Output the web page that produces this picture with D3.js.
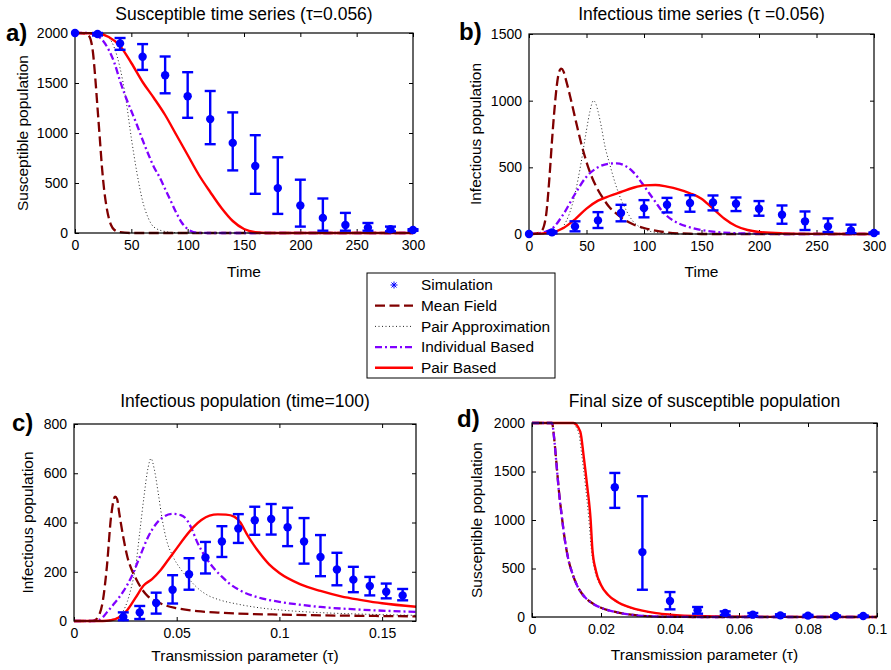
<!DOCTYPE html>
<html>
<head>
<meta charset="utf-8">
<script src="https://cdn.jsdelivr.net/npm/d3@7"></script>
<style>
  body { margin: 0; background: #fff; }
  svg text { font-family: "Liberation Sans", Arial, Helvetica, sans-serif; }
</style>
</head>
<body>
<div class="canvas"></div>
<script>
// ---- data ----
// panel a/b : time series, simulation every 20 time units
const simTimes = [0, 20, 40, 60, 80, 100, 120, 140, 160, 180, 200, 220, 240, 260, 280, 300];
const susSim   = [2000, 1990, 1896, 1762, 1578, 1367, 1139, 901, 670, 449, 275, 151, 80, 54, 37, 30];
const susLow   = [2000, 1975, 1832, 1631, 1397, 1152, 888, 626, 392, 191, 64, 23, 23, 23, 17, 22];
const susHigh  = [2000, 2000, 1950, 1889, 1765, 1608, 1420, 1206, 978, 757, 533, 345, 201, 100, 64, 38];

const infSim   = [0, 12, 57, 102, 157, 194, 219, 232, 237, 227, 189, 145, 95, 57, 27, 7];
const infLow   = [0, 5, 20, 45, 95, 125, 162, 167, 177, 172, 137, 77, 30, 15, 7, 3];
const infHigh  = [0, 20, 95, 164, 219, 254, 271, 291, 289, 274, 247, 214, 169, 117, 70, 12];

const meanFieldA = [[0,2000],[5,1998],[10,1990],[13,1960],[16,1800],[18,1550],[20,1250],[22,950],[24,650],[26,420],[28,260],[30,150],[32,80],[35,30],[40,8],[50,0],[300,0]];
const pairApproxA = [[0,2000],[20,1995],[30,1950],[35,1850],[40,1650],[45,1350],[50,950],[55,600],[60,320],[65,150],[70,60],[80,15],[90,3],[100,0],[300,0]];
const individualA = [[0,2000],[10,2000],[20,1970],[25,1920],[30,1830],[35,1700],[40,1520],[45,1360],[50,1220],[55,1080],[60,930],[65,790],[70,660],[75,560],[80,440],[85,320],[90,200],[95,100],[100,40],[105,10],[110,2],[120,0],[300,0]];
const pairBasedA = [[0,2000],[20,1995],[30,1960],[40,1870],[50,1700],[60,1510],[70,1350],[80,1180],[90,980],[100,780],[110,580],[120,410],[130,250],[140,120],[150,40],[160,8],[170,0],[300,0]];

const meanFieldB = [[0,0],[5,2],[10,15],[13,60],[15,150],[18,450],[20,700],[22,920],[24,1100],[26,1210],[28,1240],[30,1220],[32,1160],[35,1060],[38,950],[42,800],[46,660],[50,540],[55,420],[60,330],[65,260],[70,200],[75,160],[80,125],[90,75],[100,45],[110,25],[120,12],[130,5],[140,2],[150,0],[300,0]];
const pairApproxB = [[0,0],[20,5],[25,20],[30,60],[35,150],[40,300],[45,520],[50,780],[53,920],[56,1000],[58,980],[60,920],[63,800],[66,660],[70,530],[75,380],[80,260],[85,170],[90,100],[95,60],[100,35],[110,12],[120,4],[130,0],[300,0]];
const individualB = [[0,0],[10,8],[20,40],[30,150],[40,300],[50,430],[60,500],[70,528],[76,530],[85,505],[90,470],[95,420],[100,360],[105,300],[110,240],[115,180],[120,135],[130,80],[140,50],[150,30],[160,18],[180,6],[200,2],[220,0],[300,0]];
const pairBasedB = [[0,0],[10,3],[20,12],[30,45],[40,110],[50,190],[60,250],[70,285],[80,315],[90,345],[100,365],[110,368],[120,355],[130,335],[140,305],[150,265],[160,190],[170,115],[180,60],[190,30],[200,15],[220,5],[250,1],[300,0]];

// panel c : infectious at time 100 vs tau
const tauSimC  = [0.024, 0.032, 0.040, 0.048, 0.056, 0.064, 0.072, 0.080, 0.088, 0.096, 0.104, 0.112, 0.120, 0.128, 0.136, 0.144, 0.152, 0.160];
const infTauSim  = [16, 35, 73, 127, 190, 258, 323, 376, 409, 414, 381, 323, 260, 209, 168, 142, 119, 104];
const infTauLow  = [3, 8, 30, 71, 127, 193, 260, 317, 350, 351, 304, 233, 182, 145, 117, 104, 92, 84];
const infTauHigh = [35, 61, 115, 186, 255, 321, 385, 434, 464, 475, 460, 418, 349, 277, 220, 179, 152, 130];

const meanFieldC = [[0,0],[0.008,0],[0.010,3],[0.012,20],[0.014,80],[0.016,220],[0.018,420],[0.020,505],[0.021,495],[0.022,440],[0.024,340],[0.026,260],[0.028,210],[0.030,175],[0.033,130],[0.036,100],[0.040,80],[0.045,62],[0.050,52],[0.060,40],[0.070,34],[0.080,30],[0.100,26],[0.120,23],[0.140,21],[0.1665,19]];
const pairApproxC = [[0,0],[0.014,0],[0.018,5],[0.022,20],[0.026,80],[0.028,140],[0.030,220],[0.032,360],[0.034,500],[0.036,620],[0.0375,660],[0.039,620],[0.041,520],[0.043,410],[0.045,330],[0.048,265],[0.052,210],[0.056,170],[0.060,135],[0.065,105],[0.070,88],[0.080,68],[0.090,54],[0.100,45],[0.120,34],[0.140,28],[0.1665,23]];
const individualC = [[0,0],[0.010,0],[0.012,3],[0.014,15],[0.016,35],[0.018,55],[0.020,75],[0.024,120],[0.028,180],[0.032,260],[0.036,340],[0.040,395],[0.044,425],[0.048,435],[0.052,430],[0.055,410],[0.057,380],[0.060,320],[0.064,260],[0.068,215],[0.072,180],[0.076,150],[0.080,128],[0.090,95],[0.100,78],[0.110,66],[0.120,57],[0.140,46],[0.1665,37]];
const pairBasedC = [[0,0],[0.014,0],[0.018,3],[0.022,15],[0.026,45],[0.030,95],[0.034,145],[0.038,170],[0.042,205],[0.046,250],[0.050,295],[0.054,340],[0.058,380],[0.062,410],[0.066,428],[0.070,433],[0.074,432],[0.078,424],[0.081,400],[0.084,355],[0.087,315],[0.090,280],[0.095,230],[0.100,195],[0.110,150],[0.120,122],[0.130,100],[0.140,85],[0.150,72],[0.1665,58]];

// panel d : final susceptible size vs tau
const tauSimD   = [0.024, 0.032, 0.040, 0.048, 0.056, 0.064, 0.072, 0.080, 0.088, 0.096];
const finalSim  = [1338, 669, 165, 69, 41, 24, 17, 14, 10, 10];
const finalLow  = [1125, 281, 79, 34, 21, 10, 8, 6, 4, 4];
const finalHigh = [1485, 1245, 257, 103, 58, 41, 28, 22, 16, 16];

const meanFieldD = [[0,2000],[0.0058,2000],[0.0064,1850],[0.0070,1620],[0.0078,1300],[0.0086,1050],[0.0095,800],[0.0105,600],[0.0118,440],[0.013,330],[0.0145,240],[0.016,180],[0.018,130],[0.020,95],[0.022,70],[0.025,45],[0.028,27],[0.032,12],[0.036,5],[0.040,2],[0.050,0],[0.1,0]];
const pairApproxD = [[0,2000],[0.0115,2000],[0.0135,1900],[0.0145,1650],[0.0155,1350],[0.0165,1000],[0.0172,700],[0.0182,480],[0.020,320],[0.022,225],[0.025,145],[0.028,100],[0.032,62],[0.036,38],[0.040,23],[0.050,7],[0.060,2],[0.1,0]];
const individualD = [[0,2000],[0.0058,2000],[0.0064,1850],[0.0070,1615],[0.0078,1295],[0.0086,1045],[0.0095,800],[0.0105,600],[0.0118,440],[0.013,330],[0.0145,240],[0.016,180],[0.018,130],[0.020,95],[0.022,70],[0.025,45],[0.028,27],[0.032,12],[0.036,5],[0.040,2],[0.050,0],[0.1,0]];
const pairBasedD = [[0,2000],[0.012,2000],[0.014,1910],[0.015,1650],[0.016,1350],[0.017,1000],[0.0175,700],[0.0185,480],[0.020,330],[0.022,230],[0.025,150],[0.028,105],[0.032,65],[0.036,40],[0.040,25],[0.050,8],[0.060,3],[0.070,1],[0.1,0]];

// tick values
const timeTicks = [0, 50, 100, 150, 200, 250, 300];
const susTicks = [0, 500, 1000, 1500, 2000];
const infTicks = [0, 500, 1000, 1500];
const infTauTicks = [0, 200, 400, 600, 800];
const tauTicksC = [0, 0.05, 0.1, 0.15];
const tauTicksD = [0, 0.02, 0.04, 0.06, 0.08, 0.1];

const legendLabels = ['Simulation', 'Mean Field', 'Pair Approximation', 'Individual Based', 'Pair Based'];

// ---- drawing ----
const svg = d3.select('.canvas')
  .append('svg')
    .attr('width', 891)
    .attr('height', 670);

const font = '"Liberation Sans", Arial, Helvetica, sans-serif';
const simColor = '#0000ff';

// line styles for the four models
const styles = {
  meanField:  {stroke: '#800000', width: 2.3, dash: '10,4.5'},
  pairApprox: {stroke: '#222222', width: 1, dash: '1,2.5'},
  individual: {stroke: '#8000ff', width: 2.3, dash: '7,3,2,3'},
  pairBased:  {stroke: '#ff0000', width: 2.4, dash: null}
};

function drawPanel(p) {
  const x = d3.scaleLinear().domain(p.xDomain).range([p.left, p.right]);
  const y = d3.scaleLinear().domain(p.yDomain).range([p.bottom, p.top]);
  const g = svg.append('g');

  // axes on all four sides, ticks pointing inward (matlab box style)
  const styleAxis = sel => {
    sel.attr('font-size', 14).attr('font-family', font);
    sel.select('.domain').remove();
    sel.selectAll('.tick line').attr('stroke', '#000');
    sel.selectAll('.tick text').attr('fill', '#000');
  };
  g.append('g')
    .attr('transform', `translate(0,${p.bottom})`)
    .call(d3.axisBottom(x).tickValues(p.xTicks).tickFormat(d => String(d)).tickSizeInner(-4).tickSizeOuter(0).tickPadding(7))
    .call(styleAxis);
  g.append('g')
    .attr('transform', `translate(0,${p.top})`)
    .call(d3.axisTop(x).tickValues(p.xTicks).tickFormat('').tickSizeInner(-4).tickSizeOuter(0))
    .call(styleAxis);
  g.append('g')
    .attr('transform', `translate(${p.left},0)`)
    .call(d3.axisLeft(y).tickValues(p.yTicks).tickFormat(d => String(d)).tickSizeInner(-4).tickSizeOuter(0).tickPadding(7))
    .call(styleAxis);
  g.append('g')
    .attr('transform', `translate(${p.right},0)`)
    .call(d3.axisRight(y).tickValues(p.yTicks).tickFormat('').tickSizeInner(-4).tickSizeOuter(0))
    .call(styleAxis);

  // model curves
  const line = d3.line()
    .x(d => x(d[0]))
    .y(d => y(d[1]))
    .curve(d3.curveMonotoneX);
  p.curves.forEach(c => {
    const s = styles[c.style];
    g.append('path')
      .datum(c.data)
      .attr('d', line)
      .attr('fill', 'none')
      .attr('stroke', s.stroke)
      .attr('stroke-width', s.width)
      .attr('stroke-dasharray', s.dash);
  });

  // frame
  g.append('rect')
    .attr('x', p.left).attr('y', p.top)
    .attr('width', p.right - p.left).attr('height', p.bottom - p.top)
    .attr('fill', 'none').attr('stroke', '#000').attr('stroke-width', 1.2);

  // simulation: error bars + dots
  const sim = p.simX.map((v, i) => ({x: v, y: p.simY[i], lo: p.simLo[i], hi: p.simHi[i]}));
  const bars = g.append('g').attr('stroke', simColor).attr('stroke-width', 2.4);
  sim.filter(d => d.hi > d.lo).forEach(d => {
    const cx = x(d.x);
    bars.append('line').attr('x1', cx).attr('x2', cx).attr('y1', y(d.lo)).attr('y2', y(d.hi));
    bars.append('line').attr('x1', cx - 5.5).attr('x2', cx + 5.5).attr('y1', y(d.lo)).attr('y2', y(d.lo));
    bars.append('line').attr('x1', cx - 5.5).attr('x2', cx + 5.5).attr('y1', y(d.hi)).attr('y2', y(d.hi));
  });
  g.selectAll('circle.sim')
    .data(sim)
    .enter()
    .append('circle')
      .attr('class', 'sim')
      .attr('cx', d => x(d.x))
      .attr('cy', d => y(d.y))
      .attr('r', 4.2)
      .attr('fill', simColor);

  // texts
  g.append('text')
    .attr('x', (p.left + p.right) / 2).attr('y', p.titleY)
    .attr('text-anchor', 'middle').attr('font-size', 17.5)
    .text(p.title);
  g.append('text')
    .attr('x', (p.left + p.right) / 2).attr('y', p.xLabelY)
    .attr('text-anchor', 'middle').attr('font-size', 15.5)
    .text(p.xLabel);
  g.append('text')
    .attr('transform', `translate(${p.yLabelX},${(p.top + p.bottom) / 2}) rotate(-90)`)
    .attr('text-anchor', 'middle').attr('font-size', 15.5)
    .text(p.yLabel);
  g.append('text')
    .attr('x', p.tagX).attr('y', p.tagY)
    .attr('font-size', 24).attr('font-weight', 'bold')
    .text(p.tag);
}

drawPanel({
  left: 75, right: 413, top: 33, bottom: 233,
  xDomain: [0, 300], yDomain: [0, 2000], xTicks: timeTicks, yTicks: susTicks,
  curves: [
    {style: 'meanField', data: meanFieldA},
    {style: 'pairApprox', data: pairApproxA},
    {style: 'individual', data: individualA},
    {style: 'pairBased', data: pairBasedA}
  ],
  simX: simTimes, simY: susSim, simLo: susLow, simHi: susHigh,
  title: 'Susceptible time series (\u03c4=0.056)', titleY: 20,
  xLabel: 'Time', xLabelY: 277,
  yLabel: 'Susceptible population', yLabelX: 28,
  tag: 'a)', tagX: 6, tagY: 41
});

drawPanel({
  left: 529, right: 874, top: 34, bottom: 234,
  xDomain: [0, 300], yDomain: [0, 1500], xTicks: timeTicks, yTicks: infTicks,
  curves: [
    {style: 'meanField', data: meanFieldB},
    {style: 'pairApprox', data: pairApproxB},
    {style: 'individual', data: individualB},
    {style: 'pairBased', data: pairBasedB}
  ],
  simX: simTimes, simY: infSim, simLo: infLow, simHi: infHigh,
  title: 'Infectious time series (\u03c4 =0.056)', titleY: 20,
  xLabel: 'Time', xLabelY: 277,
  yLabel: 'Infectious population', yLabelX: 481,
  tag: 'b)', tagX: 459, tagY: 40
});

drawPanel({
  left: 74, right: 416, top: 424, bottom: 621,
  xDomain: [0, 0.1665], yDomain: [0, 800], xTicks: tauTicksC, yTicks: infTauTicks,
  curves: [
    {style: 'meanField', data: meanFieldC},
    {style: 'pairApprox', data: pairApproxC},
    {style: 'individual', data: individualC},
    {style: 'pairBased', data: pairBasedC}
  ],
  simX: tauSimC, simY: infTauSim, simLo: infTauLow, simHi: infTauHigh,
  title: 'Infectious population (time=100)', titleY: 407,
  xLabel: 'Transmission parameter (\u03c4)', xLabelY: 661,
  yLabel: 'Infectious population', yLabelX: 33,
  tag: 'c)', tagX: 12, tagY: 431
});

drawPanel({
  left: 532, right: 877, top: 423, bottom: 617,
  xDomain: [0, 0.1], yDomain: [0, 2000], xTicks: tauTicksD, yTicks: susTicks,
  curves: [
    {style: 'pairApprox', data: pairApproxD},
    {style: 'pairBased', data: pairBasedD},
    {style: 'meanField', data: meanFieldD},
    {style: 'individual', data: individualD}
  ],
  simX: tauSimD, simY: finalSim, simLo: finalLow, simHi: finalHigh,
  title: 'Final size of susceptible population', titleY: 407,
  xLabel: 'Transmission parameter (\u03c4)', xLabelY: 660,
  yLabel: 'Susceptible population', yLabelX: 482,
  tag: 'd)', tagX: 457, tagY: 427
});

// ---- legend ----
const legend = svg.append('g');
legend.append('rect')
  .attr('x', 367).attr('y', 273).attr('width', 188).attr('height', 105)
  .attr('fill', '#fff').attr('stroke', '#000').attr('stroke-width', 1);
const legendStyles = [null, 'meanField', 'pairApprox', 'individual', 'pairBased'];
legendLabels.forEach((label, i) => {
  const ly = 285 + i * 20.7;
  if (legendStyles[i] === null) {
    legend.append('path')
      .attr('transform', `translate(394,${ly})`)
      .attr('d', 'M-3.5,0L3.5,0M0,-3.5L0,3.5M-2.5,-2.5L2.5,2.5M-2.5,2.5L2.5,-2.5')
      .attr('stroke', simColor).attr('stroke-width', 1);
  } else {
    const s = styles[legendStyles[i]];
    legend.append('line')
      .attr('x1', 375).attr('x2', 413).attr('y1', ly).attr('y2', ly)
      .attr('stroke', s.stroke).attr('stroke-width', s.width)
      .attr('stroke-dasharray', s.dash);
  }
  legend.append('text')
    .attr('x', 421).attr('y', ly).attr('dy', '0.35em')
    .attr('font-size', 15.4)
    .text(label);
});
</script>
</body>
</html>
